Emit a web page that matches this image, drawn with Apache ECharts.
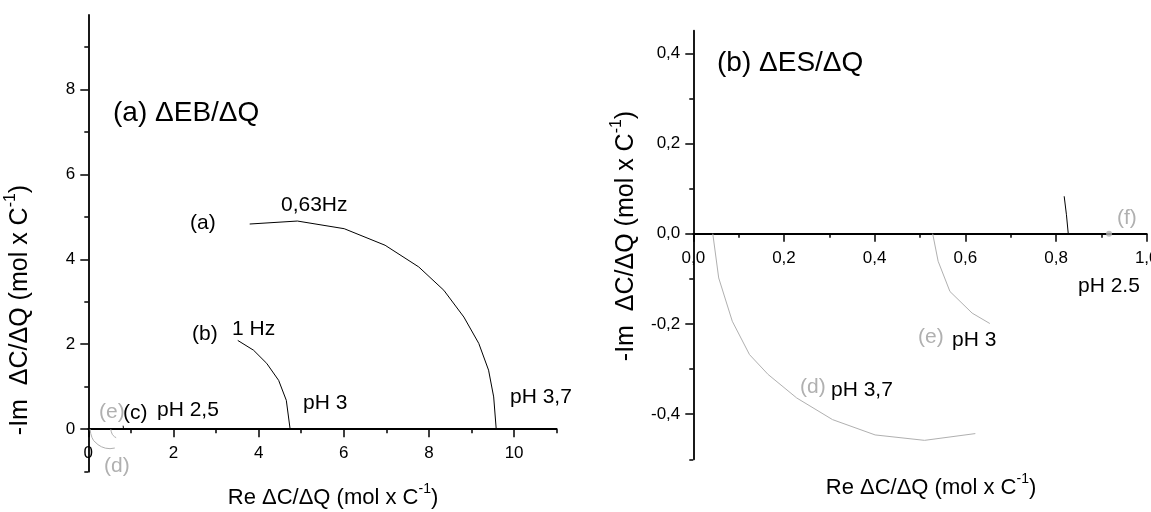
<!DOCTYPE html>
<html><head><meta charset="utf-8">
<script src="https://cdn.jsdelivr.net/npm/echarts@6/dist/echarts.min.js"></script>
<style>html,body{margin:0;padding:0;background:#fff;overflow:hidden}#c{width:1151px;height:512px}</style>
</head><body><div id="c"></div>
<script>
// ---- data ----
const curveA = [[3.79,4.83],[4.91,4.90],[6.01,4.72],[6.97,4.33],[7.76,3.82],[8.35,3.27],[8.82,2.64],[9.17,2.02],[9.40,1.39],[9.52,0.76],[9.58,0.0]];
const curveB = [[3.51,2.09],[3.88,1.86],[4.19,1.55],[4.47,1.15],[4.65,0.68],[4.74,0.0]];
const curveC = [[0.818,0.083],[0.823,0.042],[0.827,0.0]];
const curveD = [[0.043,0.0],[0.056,-0.098],[0.086,-0.194],[0.124,-0.268],[0.165,-0.312],[0.228,-0.364],[0.307,-0.412],[0.401,-0.446],[0.510,-0.458],[0.622,-0.443]];
const curveE = [[0.528,0.0],[0.540,-0.061],[0.566,-0.128],[0.615,-0.176],[0.654,-0.199]];
const pointF = [[0.917,0.0]];

const leftXMajor = [0,2,4,6,8,10];
const leftXMinor = [1,3,5,7,9,11];
const leftYMajor = [0,2,4,6,8];
const leftYMinor = [-1,1,3,5,7,9];
const rightXMajor = [0,0.2,0.4,0.6,0.8,1.0];
const rightXMinor = [0.1,0.3,0.5,0.7,0.9];
const rightYMajor = [-0.4,-0.2,0,0.2,0.4];
const rightYMinor = [-0.5,-0.3,-0.1,0.1,0.3];

const axisTitle = 'Re \u0394C/\u0394Q (mol x C{sup|-1})';
const axisTitleY = '-Im  \u0394C/\u0394Q (mol x C{sup|-1})';

// ---- layout / styling ----
const FONT = '"Liberation Sans", Arial, Helvetica, sans-serif';
const GRAY = '#b0b0b0';
const fmtInt = v => String(Math.round(v));
const fmtComma = v => v.toFixed(1).replace('.', ',');

const G = [
  { left: 88.3, top: 15, width: 468.4, height: 456.7, ymin: -1, ymax: 9.75, xmin: 0, xmax: 11 },
  { left: 693.3, top: 30.7, width: 453.4, height: 428.6, ymin: -0.5, ymax: 0.45, xmin: 0, xmax: 1 }
];
// x axes are drawn on the y = 0 line: offset from the grid bottom computed from the y range
const zeroOffset = g => -g.height * (0 - g.ymin) / (g.ymax - g.ymin);

function mainAxis(grid, min, max, labels, ticks, fmt, fs, pos, offset, margin) {
  return {
    type: 'value', gridIndex: grid, min: min, max: max, position: pos, offset: offset || 0,
    axisLine: { show: true, onZero: false, lineStyle: { color: '#000', width: 1.8 } },
    axisTick: { show: true, inside: false, customValues: ticks, length: 4, lineStyle: { color: '#000', width: 1.5 } },
    axisLabel: { show: true, customValues: labels, formatter: fmt, color: '#000', fontSize: fs, fontFamily: FONT, margin: margin },
    splitLine: { show: false }
  };
}
function tickAxis(grid, min, max, ticks, pos, offset) {
  return {
    type: 'value', gridIndex: grid, min: min, max: max, position: pos, offset: offset || 0,
    axisLine: { show: false, onZero: false },
    axisTick: { show: true, inside: false, customValues: ticks, length: 8, lineStyle: { color: '#000', width: 1.5 } },
    axisLabel: { show: false },
    splitLine: { show: false }
  };
}
function line(data, color, xi, yi) {
  return { type: 'line', data: data, xAxisIndex: xi, yAxisIndex: yi, symbol: 'none', smooth: false,
    lineStyle: { color: color, width: 1 }, silent: true, animation: false };
}
function txt(text, x, y, fs, color) {
  return { type: 'text', x: x, y: y, silent: true,
    style: { text: text, fontSize: fs, fontFamily: FONT, fill: color || '#000', align: 'left', verticalAlign: 'middle' } };
}
function title(x, y, rot, text, fs) {
  return { type: 'text', x: x, y: y, rotation: rot, silent: true,
    style: { text: text, fontSize: fs, fontFamily: FONT, fill: '#000', align: 'center', verticalAlign: 'middle', lineHeight: fs + 10,
      rich: { sup: { fontSize: Math.round(fs * 0.65), fontFamily: FONT, fill: '#000', verticalAlign: 'top', lineHeight: fs + 10 } } } };
}

const chart = echarts.init(document.getElementById('c'), null, { renderer: 'canvas' });
chart.setOption({
  animation: false,
  backgroundColor: '#fff',
  grid: G.map(g => ({ left: g.left, top: g.top, width: g.width, height: g.height, containLabel: false, outerBoundsMode: 'none' })),
  xAxis: [
    mainAxis(0, G[0].xmin, G[0].xmax, leftXMajor, leftXMinor, fmtInt, 17, 'bottom', zeroOffset(G[0]), 16),
    tickAxis(0, G[0].xmin, G[0].xmax, leftXMajor, 'bottom', zeroOffset(G[0])),
    mainAxis(1, G[1].xmin, G[1].xmax, rightXMajor, rightXMinor, fmtComma, 17, 'bottom', zeroOffset(G[1]), 16),
    tickAxis(1, G[1].xmin, G[1].xmax, rightXMajor, 'bottom', zeroOffset(G[1]))
  ],
  yAxis: [
    mainAxis(0, G[0].ymin, G[0].ymax, leftYMajor, leftYMinor, fmtInt, 17, 'left', 0, 13),
    tickAxis(0, G[0].ymin, G[0].ymax, leftYMajor, 'left', 0),
    mainAxis(1, G[1].ymin, G[1].ymax, rightYMajor, rightYMinor, fmtComma, 17, 'left', 0, 13),
    tickAxis(1, G[1].ymin, G[1].ymax, rightYMajor, 'left', 0)
  ],
  series: [
    line(curveA, '#000', 0, 0),
    line(curveB, '#000', 0, 0),
    line(curveC, '#000', 0, 0),
    line(curveD, GRAY, 0, 0),
    line(curveE, GRAY, 0, 0),
    line(curveC, '#000', 2, 2),
    line(curveD, GRAY, 2, 2),
    line(curveE, GRAY, 2, 2),
    { type: 'scatter', data: pointF, xAxisIndex: 2, yAxisIndex: 2, symbol: 'circle', symbolSize: 6,
      itemStyle: { color: GRAY }, silent: true, animation: false }
  ],
  graphic: [
    txt('(a) \u0394EB/\u0394Q', 113, 113, 28),
    txt('(a)', 190, 223, 21),
    txt('0,63Hz', 281, 205, 21),
    txt('(b)', 192, 334, 21),
    txt('1 Hz', 232, 329, 21),
    txt('pH 3', 303, 403, 21),
    txt('pH 3,7', 510, 397, 21),
    txt('(e)', 99, 412, 21, GRAY),
    txt('(c)', 123, 413, 21),
    txt('pH 2,5', 157, 410, 21),
    txt('(d)', 104, 466, 21, GRAY),
    txt('(b) \u0394ES/\u0394Q', 717, 63, 28),
    txt('(f)', 1117, 218, 21, GRAY),
    txt('pH 2.5', 1078, 286, 21),
    txt('(e)', 918, 337, 21, GRAY),
    txt('pH 3', 952, 340, 21),
    txt('(d)', 800, 387, 21, GRAY),
    txt('pH 3,7', 831, 390, 21),
    title(333, 498, 0, axisTitle, 22),
    title(931, 488, 0, axisTitle, 22),
    title(20, 310, Math.PI / 2, axisTitleY, 25),
    title(626, 236, Math.PI / 2, axisTitleY, 25)
  ]
});
</script></body></html>
